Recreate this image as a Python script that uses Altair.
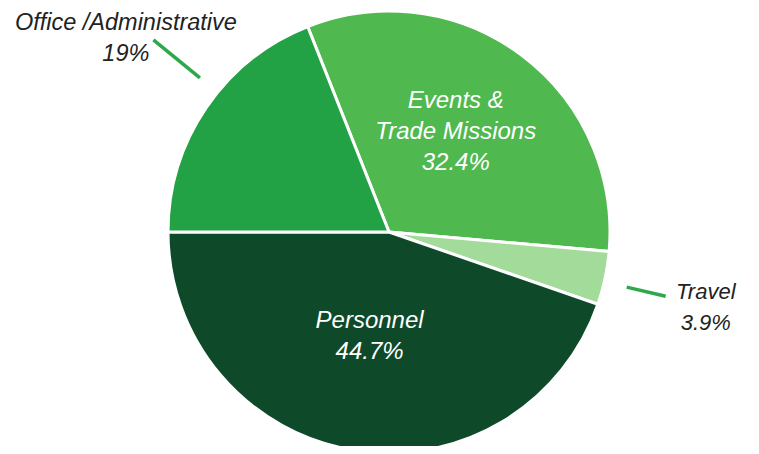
import math
import altair as alt
import pandas as pd

categories = ["Events & Trade Missions", "Travel", "Personnel", "Office /Administrative"]
shares = [32.4, 3.9, 44.7, 19.0]
label_lines = [["Events &", "Trade Missions", "32.4%"], ["Travel", "3.9%"],
               ["Personnel", "44.7%"], ["Office /Administrative", "19%"]]
colors = ["#4fb84f", "#a3dc9a", "#0e4a2a", "#22a244"]

df = pd.DataFrame({
    "category": categories,
    "share": shares,
    "order": list(range(len(categories))),
    "label": ["\n".join(l) for l in label_lines],
})

start = math.radians(-21.6)
CX, CY, R = 381, 224, 221

base = alt.Chart(df).transform_window(
    cum="sum(share)", sort=[alt.SortField("order")]
).transform_calculate(
    mid=f"{start} + 2*PI*(datum.cum - datum.share/2)/100"
)

pie = alt.Chart(df).mark_arc(stroke="white", strokeWidth=3).encode(
    theta=alt.Theta("share:Q", stack=True,
                    scale=alt.Scale(range=[start, start + 2 * math.pi])),
    color=alt.Color("category:N", scale=alt.Scale(domain=categories, range=colors), legend=None),
    order=alt.Order("order:Q"),
    x=alt.value(CX), y=alt.value(CY), radius=alt.value(R),
)

# label settings: category -> (radius, dx, dy, color, size)
label_cfg = {
    "Events & Trade Missions": (125, -8, -31, "white", 24),
    "Travel": (326, -2, -8, "#222222", 22),
    "Personnel": (105, -2, -15, "white", 24),
    "Office /Administrative": (329, 9, -24, "#222222", 23.5),
}

layers = [pie]
for cat, (r, dx, dy, col, size) in label_cfg.items():
    layers.append(
        base.transform_filter(alt.datum.category == cat).mark_text(
            font="Liberation Sans", fontSize=size, fontStyle="italic", color=col,
            lineBreak="\n", lineHeight=31, align="center", baseline="middle",
            dx=dx, dy=dy,
        ).encode(
            theta=alt.Theta("mid:Q", scale=None, stack=False),
            radius=alt.value(r),
            x=alt.value(CX), y=alt.value(CY),
            text="label:N",
        )
    )

# leader lines: category -> (angle offset deg, r1, r2)
leader_cfg = {
    "Office /Administrative": (5.0, 244, 304),
    "Travel": (1.0, 244, 284),
}
for cat, (off, r1, r2) in leader_cfg.items():
    layers.append(
        base.transform_filter(alt.datum.category == cat).transform_calculate(
            a=f"datum.mid + {math.radians(off)}"
        ).transform_calculate(
            x1=f"{CX} + {r1}*sin(datum.a)", y1=f"{CY} - {r1}*cos(datum.a)",
            x2=f"{CX} + {r2}*sin(datum.a)", y2=f"{CY} - {r2}*cos(datum.a)",
        ).mark_rule(color="#2ea84a", strokeWidth=3.5).encode(
            x=alt.X("x1:Q", scale=None), y=alt.Y("y1:Q", scale=None),
            x2="x2:Q", y2="y2:Q",
        )
    )

chart = alt.layer(*layers).properties(
    width=743, height=438, padding=0, autosize=alt.AutoSizeParams(type="none")
).configure_view(stroke=None)

chart.save("out.html", embed_options={"renderer": "svg", "actions": False})
